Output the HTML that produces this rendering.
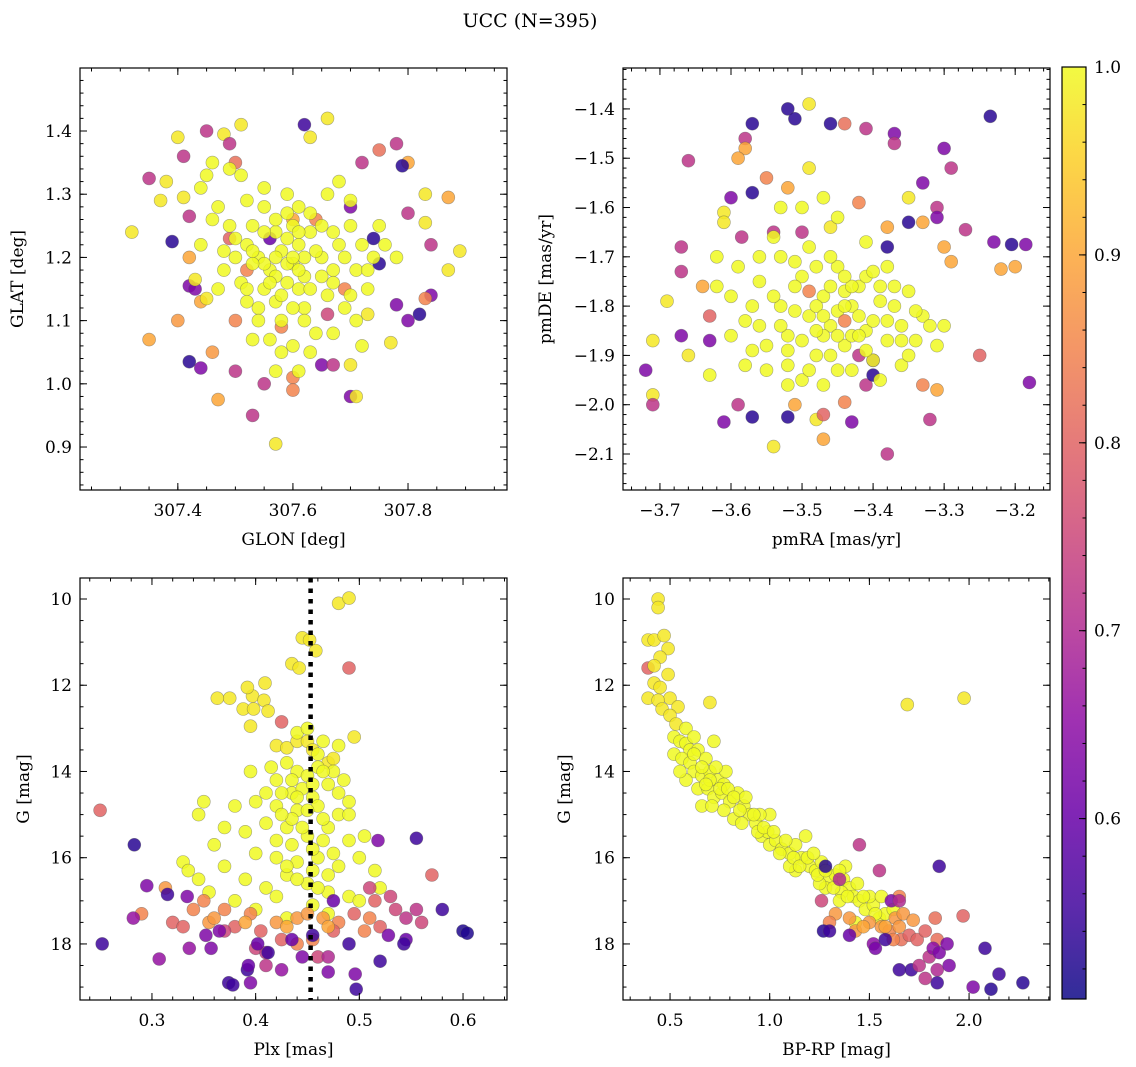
<!DOCTYPE html>
<html><head><meta charset="utf-8"><style>
html,body{margin:0;padding:0;background:#fff;}
svg{display:block;font-family:"DejaVu Serif","Liberation Serif",serif;}
</style></head><body>
<svg id="fig" width="1136" height="1067" viewBox="0 0 1136 1067" xmlns="http://www.w3.org/2000/svg">
<text x="530" y="27" font-size="19" text-anchor="middle">UCC (N=395)</text>
</svg>
<script>
const panel1Points=[[307.32,1.24,.98],[307.35,1.07,.9],[307.35,1.325,.72],[307.38,1.32,.98],[307.37,1.29,.98],[307.39,1.225,.53],[307.40,1.39,.98],[307.41,1.36,.72],[307.42,1.265,.72],[307.42,1.155,.63],[307.40,1.10,.88],[307.42,1.035,.53],[307.43,1.15,.63],[307.44,1.025,.63],[307.45,1.40,.72],[307.46,1.05,.88],[307.47,.975,.9],[307.48,1.395,.98],[307.49,1.38,.72],[307.50,1.35,.82],[307.50,1.02,.72],[307.51,1.41,.98],[307.53,.95,.72],[307.55,1.0,.72],[307.57,.905,.98],[307.60,1.01,.85],[307.60,.99,.85],[307.62,1.41,.55],[307.63,1.39,.98],[307.66,1.42,.98],[307.65,1.03,.63],[307.67,1.03,.72],[307.70,1.03,.98],[307.70,.98,.63],[307.71,.98,.98],[307.75,1.37,.82],[307.72,1.35,.72],[307.78,1.38,.72],[307.80,1.35,.9],[307.79,1.345,.53],[307.83,1.30,.98],[307.87,1.295,.9],[307.80,1.27,.72],[307.83,1.255,.98],[307.84,1.22,.72],[307.89,1.21,.98],[307.87,1.18,.98],[307.84,1.14,.63],[307.83,1.135,.85],[307.82,1.11,.53],[307.80,1.10,.63],[307.78,1.125,.63],[307.77,1.065,.98],[307.73,1.11,.98],[307.75,1.19,.53],[307.74,1.23,.53],[307.70,1.28,.63],[307.42,1.20,.9],[307.43,1.165,.98],[307.44,1.13,.9],[307.45,1.135,.98],[307.49,1.23,.8],[307.41,1.295,.98],
[307.52,1.18,.85],[307.66,1.11,.75],[307.69,1.15,.85],[307.56,1.23,.6],[307.6,1.26,.9],[307.64,1.26,.85],[307.58,1.09,.85],[307.50,1.10,.85],
[307.52,1.22,1],[307.54,1.20,1],[307.56,1.18,1],[307.58,1.21,1],[307.60,1.19,1],[307.62,1.17,1],[307.55,1.15,1],[307.57,1.13,1],[307.59,1.16,1],[307.61,1.22,1],[307.63,1.24,1],[307.65,1.20,1],[307.67,1.18,1],[307.53,1.25,1],[307.50,1.20,1],[307.48,1.18,1],[307.51,1.16,1],[307.54,1.12,1],[307.58,1.10,1],[307.62,1.12,1],[307.66,1.14,1],[307.68,1.22,1],[307.70,1.25,1],[307.72,1.22,1],[307.74,1.20,1],[307.69,1.12,1],[307.71,1.10,1],[307.64,1.08,1],[307.60,1.06,1],[307.56,1.07,1],[307.52,1.13,1],[307.49,1.25,1],[307.55,1.28,1],[307.59,1.30,1],[307.63,1.27,1],[307.66,1.30,1],[307.68,1.32,1],[307.70,1.29,1],[307.60,1.25,1],[307.57,1.24,1],[307.64,1.21,1],[307.67,1.16,1],[307.73,1.15,1],[307.76,1.22,1],[307.78,1.20,1],[307.45,1.33,1],[307.46,1.35,1],[307.44,1.31,1],[307.47,1.28,1],[307.49,1.34,1],[307.51,1.33,1],[307.52,1.29,1],[307.58,1.05,1],[307.61,1.15,1],[307.55,1.19,1],[307.57,1.17,1],[307.59,1.19,1],[307.53,1.19,1],[307.62,1.20,1],[307.6,1.2,1],
[307.53,1.21,1],[307.55,1.24,1],[307.57,1.26,1],[307.59,1.23,1],[307.61,1.18,1],[307.63,1.15,1],[307.65,1.17,1],[307.67,1.24,1],[307.69,1.20,1],[307.71,1.18,1],[307.56,1.16,1],[307.58,1.14,1],[307.60,1.12,1],[307.62,1.10,1],[307.54,1.10,1],[307.52,1.15,1],[307.50,1.23,1],[307.48,1.21,1],[307.46,1.26,1],[307.55,1.31,1],[307.61,1.28,1],[307.65,1.25,1],[307.73,1.18,1],[307.75,1.25,1],[307.67,1.08,1],[307.63,1.05,1],[307.57,1.02,1],[307.61,1.02,1],[307.53,1.07,1],[307.47,1.15,1],[307.44,1.22,1],[307.70,1.14,1],[307.72,1.06,1],[307.59,1.27,1],[307.57,1.20,1],[307.61,1.24,1]];
const panel2Points=[[-3.235,-1.415,.53],[-3.52,-1.40,.53],[-3.51,-1.42,.53],[-3.49,-1.39,.98],[-3.46,-1.43,.53],[-3.44,-1.43,.82],[-3.57,-1.43,.53],[-3.41,-1.44,.72],[-3.37,-1.45,.63],[-3.37,-1.47,.72],[-3.30,-1.48,.63],[-3.29,-1.52,.72],[-3.66,-1.505,.72],[-3.58,-1.46,.72],[-3.58,-1.48,.9],[-3.59,-1.5,.9],[-3.55,-1.54,.85],[-3.49,-1.52,.98],[-3.52,-1.56,.9],[-3.33,-1.55,.63],[-3.35,-1.58,.98],[-3.31,-1.60,.72],[-3.31,-1.62,.63],[-3.27,-1.645,.72],[-3.205,-1.675,.53],[-3.185,-1.675,.63],[-3.23,-1.67,.63],[-3.22,-1.725,.9],[-3.29,-1.71,.9],[-3.33,-1.63,.9],[-3.57,-1.57,.53],[-3.60,-1.58,.63],[-3.61,-1.61,.98],[-3.61,-1.63,.98],[-3.585,-1.66,.72],[-3.54,-1.65,.72],[-3.50,-1.65,.72],[-3.46,-1.64,.98],[-3.42,-1.59,.85],[-3.38,-1.64,.9],[-3.35,-1.63,.53],[-3.38,-1.68,.53],[-3.30,-1.68,.9],[-3.67,-1.68,.72],[-3.67,-1.73,.72],[-3.64,-1.76,.9],[-3.69,-1.79,.98],[-3.71,-1.87,.98],[-3.72,-1.93,.63],[-3.71,-1.98,.98],[-3.71,-2.0,.72],[-3.67,-1.86,.63],[-3.63,-1.87,.63],[-3.66,-1.90,.98],[-3.63,-1.82,.8],[-3.61,-2.035,.63],[-3.57,-2.025,.53],[-3.59,-2.0,.72],[-3.54,-2.085,.98],[-3.52,-2.025,.53],[-3.51,-2.0,.9],[-3.48,-2.03,.98],[-3.47,-2.07,.9],[-3.47,-2.02,.8],[-3.43,-2.035,.63],[-3.44,-1.995,.85],[-3.41,-1.96,.72],[-3.40,-1.94,.53],[-3.40,-1.91,.63],[-3.33,-1.96,.85],[-3.31,-1.97,.9],[-3.32,-2.03,.72],[-3.38,-2.10,.72],[-3.18,-1.955,.63],[-3.25,-1.90,.8],[-3.20,-1.72,.9],
[-3.60,-1.78,1],[-3.58,-1.83,1],[-3.56,-1.75,1],[-3.55,-1.88,1],[-3.53,-1.80,1],[-3.52,-1.86,1],[-3.50,-1.74,1],[-3.49,-1.82,1],[-3.48,-1.90,1],[-3.47,-1.78,1],[-3.46,-1.84,1],[-3.45,-1.72,1],[-3.44,-1.88,1],[-3.43,-1.80,1],[-3.42,-1.76,1],[-3.41,-1.85,1],[-3.40,-1.91,1],[-3.39,-1.79,1],[-3.38,-1.83,1],[-3.36,-1.87,1],[-3.35,-1.77,1],[-3.33,-1.82,1],[-3.31,-1.88,1],[-3.30,-1.84,1],[-3.55,-1.93,1],[-3.52,-1.92,1],[-3.50,-1.95,1],[-3.47,-1.86,1],[-3.45,-1.81,1],[-3.43,-1.93,1],[-3.41,-1.74,1],[-3.38,-1.72,1],[-3.36,-1.92,1],[-3.53,-1.70,1],[-3.49,-1.68,1],[-3.46,-1.70,1],[-3.44,-1.77,1],[-3.42,-1.82,1],[-3.40,-1.73,1],[-3.48,-1.85,1],[-3.51,-1.81,1],[-3.57,-1.89,1],[-3.62,-1.76,1],[-3.59,-1.72,1],[-3.54,-1.66,1],[-3.37,-1.80,1],[-3.34,-1.87,1],[-3.32,-1.84,1],[-3.50,-1.60,1],[-3.45,-1.62,1],[-3.56,-1.84,1],[-3.43,-1.86,1],[-3.47,-1.96,1],[-3.39,-1.95,1],[-3.52,-1.89,1],[-3.41,-1.67,1],[-3.44,-1.83,.85],[-3.49,-1.77,.85],[-3.42,-1.90,.72],
[-3.54,-1.78,1],[-3.51,-1.76,1],[-3.48,-1.80,1],[-3.46,-1.76,1],[-3.44,-1.80,1],[-3.42,-1.86,1],[-3.40,-1.83,1],[-3.38,-1.87,1],[-3.53,-1.84,1],[-3.50,-1.87,1],[-3.47,-1.82,1],[-3.45,-1.86,1],[-3.43,-1.76,1],[-3.39,-1.76,1],[-3.36,-1.84,1],[-3.57,-1.80,1],[-3.58,-1.92,1],[-3.49,-1.93,1],[-3.46,-1.90,1],[-3.41,-1.89,1],[-3.35,-1.90,1],[-3.60,-1.86,1],[-3.48,-1.72,1],[-3.51,-1.71,1],[-3.44,-1.74,1],[-3.37,-1.76,1],[-3.56,-1.70,1],[-3.53,-1.60,1],[-3.47,-1.58,1],[-3.52,-1.96,1],[-3.63,-1.94,1],[-3.45,-1.93,1],[-3.34,-1.81,1],[-3.62,-1.70,1]];
const panel3Points=[[0.48,10.1,.98],[0.49,9.98,.98],[0.445,10.9,.98],[0.452,10.95,.98],[0.458,11.2,.98],[0.435,11.5,.98],[0.442,11.6,.98],[0.409,11.95,.98],[0.397,12.25,.98],[0.392,12.05,.98],[0.375,12.3,.98],[0.363,12.3,.98],[0.388,12.55,.98],[0.398,12.55,.98],[0.408,12.35,.98],[0.412,12.6,.98],[0.395,12.95,.98],[0.495,13.2,.98],[0.42,13.4,.98],[0.43,13.45,.98],[0.44,13.3,.98],[0.45,13.3,.98],[0.455,13.5,.98],[0.47,13.8,.98],[0.475,13.7,.98],
[0.43,13.8,1],[0.44,14.0,1],[0.45,14.1,1],[0.46,13.9,1],[0.42,14.2,1],[0.47,14.3,1],[0.435,14.5,1],[0.455,14.6,1],[0.48,14.5,1],[0.41,14.5,1],[0.395,14.0,1],[0.40,14.7,1],[0.42,14.8,1],[0.44,14.9,1],[0.46,14.8,1],[0.48,15.0,1],[0.49,14.7,1],[0.38,14.8,1],[0.345,15.0,1],[0.37,15.3,1],[0.39,15.4,1],[0.41,15.2,1],[0.43,15.3,1],[0.45,15.5,1],[0.47,15.3,1],[0.49,15.6,1],[0.505,15.5,1],[0.36,15.7,1],[0.40,15.9,1],[0.42,16.0,1],[0.44,16.1,1],[0.46,16.0,1],[0.48,16.2,1],[0.50,16.0,1],[0.515,16.3,1],[0.33,16.1,1],[0.335,16.3,1],[0.345,16.5,1],[0.37,16.2,1],[0.39,16.5,1],[0.41,16.7,1],[0.43,16.4,1],[0.45,16.6,1],[0.47,16.8,1],[0.49,16.9,1],[0.52,16.7,1],[0.355,16.8,1],[0.38,17.0,1],[0.40,17.2,1],[0.42,16.9,1],[0.455,17.1,1],[0.5,17.0,1],[0.47,17.3,1],[0.43,17.4,1],[0.35,14.7,1],[0.475,14.0,1],[0.46,13.6,1],[0.47,16.4,1],[0.49,15.0,1],[0.42,15.6,1],
[0.44,13.1,1],[0.45,13.0,1],[0.435,14.2,1],[0.445,14.4,1],[0.455,14.3,1],[0.465,14.0,1],[0.44,14.6,1],[0.45,14.9,1],[0.465,15.1,1],[0.435,15.1,1],[0.425,15.0,1],[0.445,15.3,1],[0.455,15.8,1],[0.435,15.7,1],[0.465,15.6,1],[0.475,15.9,1],[0.43,16.2,1],[0.455,16.3,1],[0.44,16.5,1],[0.46,16.7,1],[0.48,13.4,1],[0.485,14.2,1],[0.415,13.9,1],[0.425,14.5,1],[0.465,13.3,1],
[0.29,17.3,.85],[0.313,16.7,.88],[0.32,17.5,.8],[0.34,17.2,.85],[0.355,17.5,.88],[0.37,17.2,.85],[0.38,17.6,.8],[0.395,17.3,.85],[0.405,17.7,.8],[0.42,17.5,.88],[0.44,17.4,.88],[0.45,17.3,.88],[0.465,17.4,.88],[0.48,17.5,.85],[0.495,17.3,.8],[0.505,17.7,.85],[0.52,17.6,.8],[0.535,17.2,.75],[0.545,17.4,.72],[0.555,17.2,.72],[0.56,17.5,.75],[0.57,16.4,.8],[0.51,16.7,.75],[0.515,17.0,.8],[0.37,17.7,.75],[0.40,18.1,.75],[0.425,17.9,.8],[0.455,17.9,.85],[0.475,17.7,.8],[0.35,17.0,.85],[0.25,14.9,.8],[0.49,11.6,.8],[0.425,12.85,.8],[0.53,16.9,.75],[0.33,17.6,.8],[0.44,18.0,.85],[0.46,18.3,.75],[0.41,18.2,.72],[0.36,17.4,.88],[0.39,17.5,.9],[0.43,17.6,.9],[0.47,17.6,.9],[0.51,17.4,.85],
[0.283,15.7,.53],[0.295,16.65,.63],[0.282,17.4,.66],[0.307,18.35,.66],[0.252,18.0,.55],[0.315,16.85,.55],[0.334,16.9,.63],[0.352,17.8,.63],[0.357,18.1,.63],[0.365,17.7,.63],[0.336,18.1,.66],[0.374,18.9,.55],[0.378,18.95,.55],[0.392,18.6,.55],[0.393,18.5,.6],[0.402,18.0,.6],[0.412,18.2,.55],[0.425,18.6,.66],[0.435,17.9,.6],[0.445,18.3,.63],[0.47,18.65,.63],[0.49,18.0,.55],[0.52,18.4,.55],[0.545,17.9,.6],[0.58,17.2,.55],[0.555,15.55,.55],[0.543,18.0,.55],[0.6,17.7,.52],[0.604,17.75,.52],[0.528,17.8,.62],[0.497,19.05,.55],[0.496,18.7,.63],[0.475,17.0,.6],[0.455,17.8,.55],[0.47,18.3,.7],[0.41,18.5,.72],[0.395,18.9,.63],[0.518,15.6,.63]];
const panel4Points=[[0.44,10.0,.98],[0.44,10.2,.98],[0.39,10.95,.98],[0.42,10.95,.98],[0.47,10.85,.98],[0.49,11.15,.98],[0.45,11.35,.98],[0.39,11.6,.8],[0.42,11.55,.98],[0.49,11.75,.98],[0.42,11.95,.98],[0.45,12.05,.98],[0.50,12.3,.98],[0.39,12.3,.98],[0.44,12.35,.98],[0.46,12.55,.98],[0.54,12.5,.98],[0.7,12.4,.98],[1.69,12.45,.98],[1.975,12.3,.98],[0.5,12.7,.98],[0.53,12.9,.98],
[0.52,13.2,1],[0.55,13.3,1],[0.58,13.35,1],[0.6,13.5,1],[0.52,13.6,1],[0.56,13.7,1],[0.6,13.8,1],[0.64,13.5,1],[0.68,13.7,1],[0.62,14.0,1],[0.66,14.1,1],[0.7,14.0,1],[0.74,14.2,1],[0.78,14.0,1],[0.58,14.2,1],[0.64,14.4,1],[0.69,14.4,1],[0.72,14.6,1],[0.76,14.5,1],[0.80,14.7,1],[0.84,14.5,1],[0.87,14.8,1],[0.9,15.0,1],[0.77,14.9,1],[0.66,14.8,1],[0.82,15.1,1],[0.86,15.2,1],[0.93,15.2,1],[0.96,15.5,1],[0.99,15.4,1],[1.0,15.7,1],[1.03,15.6,1],[1.06,15.8,1],[1.1,15.9,1],[1.13,15.7,1],[1.16,16.0,1],[1.2,16.2,1],[1.23,16.3,1],[1.26,16.1,1],[1.3,16.5,1],[1.33,16.4,1],[1.37,16.5,1],[1.4,16.7,1],[1.42,16.9,1],[1.36,16.8,1],[1.28,16.7,1],[1.45,17.0,1],[1.48,17.2,1],[1.52,17.1,1],[1.55,17.4,1],[1.58,17.3,1],[1.35,17.0,1],[1.43,17.5,1],[0.77,14.3,1],[1.0,15.0,1],[1.18,15.5,1],[1.13,16.3,1],[0.72,13.3,1],[0.55,14.0,1],[0.95,15.0,1],[1.1,16.2,1],[1.25,16.6,1],[1.62,17.2,1],[1.38,16.2,1],[1.5,16.9,1],
[0.62,13.6,1],[0.66,13.9,1],[0.70,14.2,1],[0.73,13.9,1],[0.75,14.4,1],[0.79,14.4,1],[0.82,14.6,1],[0.85,14.9,1],[0.88,14.6,1],[0.92,15.0,1],[0.94,15.4,1],[0.97,15.3,1],[1.02,15.4,1],[1.05,15.9,1],[1.08,15.6,1],[1.12,16.0,1],[1.15,16.2,1],[1.19,16.0,1],[1.22,15.9,1],[1.24,16.4,1],[1.28,16.3,1],[1.32,16.7,1],[1.35,16.3,1],[1.39,16.9,1],[1.44,16.6,1],[1.47,16.9,1],[1.53,17.3,1],[1.56,16.9,1],[0.58,13.0,1],[0.62,13.2,1],[0.68,14.3,1],[0.71,14.8,1],
[1.33,17.3,.88],[1.43,17.7,.88],[1.50,17.5,.88],[1.56,17.6,.88],[1.6,17.7,.85],[1.63,17.4,.88],[1.66,17.9,.82],[1.7,17.8,.8],[1.74,17.9,.8],[1.78,17.7,.8],[1.83,17.4,.82],[1.84,17.9,.82],[1.97,17.35,.8],[1.67,17.3,.88],[1.62,17.9,.85],[1.65,16.9,.85],[1.55,16.3,.72],[1.45,15.7,.72],[1.35,16.5,.7],[1.26,17.0,.75],[1.3,17.5,.85],[1.72,17.45,.88],[1.40,17.4,.88],[1.47,17.6,.9],[1.58,17.6,.9],[1.65,17.6,.88],
[1.28,16.2,.53],[1.85,16.2,.55],[1.61,17.0,.63],[1.65,17.0,.7],[1.27,17.7,.53],[1.30,17.7,.55],[1.40,17.8,.6],[1.52,18.0,.65],[1.53,18.1,.62],[1.58,17.9,.55],[1.65,18.6,.55],[1.71,18.6,.55],[1.75,18.5,.72],[1.80,18.3,.72],[1.82,18.1,.65],[1.84,18.6,.7],[1.85,18.2,.63],[1.89,18.0,.63],[1.84,18.9,.55],[1.78,18.8,.72],[2.08,18.1,.55],[2.15,18.7,.55],[2.02,19.0,.63],[2.11,19.05,.53],[2.27,18.9,.53],[1.9,18.5,.63]];
const panel1XTicks=[307.4,307.6,307.8];
const panel1YTicks=[0.9,1.0,1.1,1.2,1.3,1.4];
const panel2XTicks=[-3.7,-3.6,-3.5,-3.4,-3.3,-3.2];
const panel2YTicks=[-1.4,-1.5,-1.6,-1.7,-1.8,-1.9,-2.0,-2.1];
const panel3XTicks=[0.3,0.4,0.5,0.6];
const panel4XTicks=[0.5,1.0,1.5,2.0];
const gTicks=[10,12,14,16,18];
const colorbarTicks=[0.6,0.7,0.8,0.9,1.0];
const plxMean=[0.453];

const NS="http://www.w3.org/2000/svg";
const svg=document.getElementById('fig');
function mk(tag,attrs,parent){const e=document.createElementNS(NS,tag);for(const k in attrs)e.setAttribute(k,attrs[k]);(parent||svg).appendChild(e);return e;}
const stops=[[13,8,135],[65,4,157],[106,0,168],[143,13,164],[177,42,144],[204,71,120],[225,100,98],[242,132,75],[252,166,54],[252,206,37],[240,249,33]];
const CMIN=0.504,CMAX=1.0;
function plasma(v){let t=(v-CMIN)/(CMAX-CMIN);t=Math.max(0,Math.min(1,t))*10;const i=Math.min(9,Math.floor(t)),f=t-i;const a=stops[i],b=stops[i+1];return 'rgb('+[0,1,2].map(k=>Math.round(a[k]+(b[k]-a[k])*f)).join(',')+')';}
function fmt(v,d){return (v<0?'\u2212':'')+Math.abs(v).toFixed(d);}
const FS=17;

function panel(o){
  const g=mk('g',{});
  
  
  const sx=v=>o.x0+(v-o.xmin)/(o.xmax-o.xmin)*(o.x1-o.x0);
  const sy=o.invert?(v=>o.y0+(v-o.ymin)/(o.ymax-o.ymin)*(o.y1-o.y0)):(v=>o.y1-(v-o.ymin)/(o.ymax-o.ymin)*(o.y1-o.y0));
  const cid='clip'+o.name;
  const cp=mk('clipPath',{id:cid},g);mk('rect',{x:o.x0,y:o.y0,width:o.x1-o.x0,height:o.y1-o.y0},cp);
  const pts=mk('g',{'clip-path':'url(#'+cid+')'},g);
  
  
  o.points.forEach(p=>{
    const c=mk('circle',{cx:sx(p[0]).toFixed(1),cy:sy(p[1]).toFixed(1),r:6.5,fill:plasma(p[2]),'fill-opacity':0.85,stroke:'#555','stroke-opacity':0.5,'stroke-width':0.6},pts);
    
    
  });
  if(o.vline){o.vline.forEach(v=>{const l=mk('line',{x1:sx(v),x2:sx(v),y1:o.y0,y2:o.y1,stroke:'#000','stroke-width':4.5,'stroke-dasharray':'4.5 6'},g);
    
    });}
  const fr=mk('rect',{x:o.x0,y:o.y0,width:o.x1-o.x0,height:o.y1-o.y0,fill:'none',stroke:'#000','stroke-width':1.2},g);
  
  
  const tk=mk('g',{stroke:'#000','stroke-width':1},g);
  const mxs=Math.ceil(o.xmin/o.xminor),mxe=Math.floor(o.xmax/o.xminor);
  for(let i=mxs;i<=mxe;i++){const x=sx(i*o.xminor);mk('line',{x1:x,x2:x,y1:o.y1,y2:o.y1-3.5},tk);mk('line',{x1:x,x2:x,y1:o.y0,y2:o.y0+3.5},tk);}
  const lo=Math.min(o.ymin,o.ymax),hi=Math.max(o.ymin,o.ymax);
  for(let i=Math.ceil(lo/o.yminor);i<=Math.floor(hi/o.yminor);i++){const y=sy(i*o.yminor);mk('line',{x1:o.x0,x2:o.x0+3.5,y1:y,y2:y},tk);mk('line',{x1:o.x1,x2:o.x1-3.5,y1:y,y2:y},tk);}
  o.xticks.forEach(v=>{const x=sx(v);mk('line',{x1:x,x2:x,y1:o.y1,y2:o.y1-7},tk);mk('line',{x1:x,x2:x,y1:o.y0,y2:o.y0+7},tk);
    const t=mk('text',{x:x,y:o.y1+26,'font-size':FS,'text-anchor':'middle'},g);t.textContent=fmt(v,o.xd);
    
    });
  o.yticks.forEach(v=>{const y=sy(v);mk('line',{x1:o.x0,x2:o.x0+7,y1:y,y2:y},tk);mk('line',{x1:o.x1,x2:o.x1-7,y1:y,y2:y},tk);
    const t=mk('text',{x:o.x0-8,y:y+6,'font-size':FS,'text-anchor':'end'},g);t.textContent=fmt(v,o.yd);
    
    });
  const xl=mk('text',{x:(o.x0+o.x1)/2,y:o.y1+55,'font-size':FS,'text-anchor':'middle'},g);xl.textContent=o.xlabel;
  
  
  const cy=(o.y0+o.y1)/2;
  const yl=mk('text',{x:o.ylx,y:cy,'font-size':FS,'text-anchor':'middle',transform:'rotate(-90 '+o.ylx+' '+cy+')'},g);yl.textContent=o.ylabel;
  
  
}
panel({name:'panel-glon-glat',x0:80,x1:507,y0:68,y1:490,xmin:307.23,xmax:307.972,ymin:0.832,ymax:1.4997,xminor:0.05,yminor:0.02,xticks:panel1XTicks,yticks:panel1YTicks,xd:1,yd:1,xlabel:'GLON [deg]',ylabel:'GLAT [deg]',ylx:23,points:panel1Points});
panel({name:'panel-pmra-pmde',x0:623,x1:1050,y0:68,y1:490,xmin:-3.752,xmax:-3.151,ymin:-2.173,ymax:-1.317,xminor:0.02,yminor:0.02,xticks:panel2XTicks,yticks:panel2YTicks,xd:1,yd:1,xlabel:'pmRA [mas/yr]',ylabel:'pmDE [mas/yr]',ylx:551,points:panel2Points});
panel({name:'panel-plx-g',x0:80,x1:507,y0:578,y1:1000,xmin:0.2306,xmax:0.6424,ymin:9.513,ymax:19.30,invert:true,xminor:0.02,yminor:0.5,xticks:panel3XTicks,yticks:gTicks,xd:1,yd:0,xlabel:'Plx [mas]',ylabel:'G [mag]',ylx:29,points:panel3Points,vline:plxMean});
panel({name:'panel-bprp-g',x0:623,x1:1050,y0:578,y1:1000,xmin:0.264,xmax:2.406,ymin:9.513,ymax:19.30,invert:true,xminor:0.1,yminor:0.5,xticks:panel4XTicks,yticks:gTicks,xd:1,yd:0,xlabel:'BP-RP [mag]',ylabel:'G [mag]',ylx:570,points:panel4Points});

const cb=mk('g',{});


const defs=mk('defs',{},cb);
const lg=mk('linearGradient',{id:'cbg',x1:0,y1:1,x2:0,y2:0},defs);
for(let i=0;i<=10;i++){mk('stop',{offset:(i/10),'stop-color':'rgb('+stops[i].join(',')+')','stop-opacity':0.85},lg);}
const CB={x0:1062,x1:1086,y0:67,y1:999};
mk('rect',{x:CB.x0,y:CB.y0,width:CB.x1-CB.x0,height:CB.y1-CB.y0,fill:'url(#cbg)',stroke:'#000','stroke-width':1.2},cb);
const cy_=v=>CB.y1-(v-CMIN)/(CMAX-CMIN)*(CB.y1-CB.y0);
for(let i=Math.ceil(CMIN/0.02);i<=Math.floor(CMAX/0.02+1e-9);i++){const y=cy_(i*0.02);mk('line',{x1:CB.x1,x2:CB.x1-3.5,y1:y,y2:y,stroke:'#000'},cb);}
colorbarTicks.forEach(v=>{const y=cy_(v);mk('line',{x1:CB.x1,x2:CB.x1-7,y1:y,y2:y,stroke:'#000'},cb);
  const t=mk('text',{x:CB.x1+8,y:y+6,'font-size':FS},cb);t.textContent=v.toFixed(1);
  
  });
</script>
</body></html>
